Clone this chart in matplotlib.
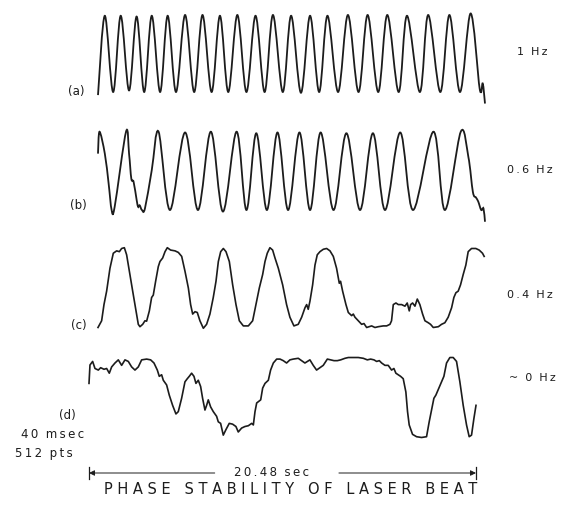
import numpy as np
import matplotlib
matplotlib.use("Agg")
import matplotlib.pyplot as plt
from matplotlib.path import Path
from matplotlib.patches import PathPatch
from matplotlib.transforms import blended_transform_factory

# 512 samples at 40 msec, amplitude in relative units (trough ~0, crest ~100)

# (a) 1 Hz
a_idx = [0, 9, 20, 30, 41, 51, 61, 71, 82, 92, 103, 115, 127, 138, 150, 161, 172, 184, 196,
         208, 220, 231, 244, 255, 268, 280, 292, 303, 317, 330, 344, 356, 370, 382, 397, 408,
         425, 436, 452, 464, 478, 492, 504, 508, 511]
a_val = [-4, 99, 0, 99, 2, 98, 0, 99, 0, 99, 0, 100, 0, 100, 0, 99, 0, 100, 0,
         99, 0, 100, 0, 99, -1, 99, 0, 99, 0, 100, 0, 100, 0, 100, 0, 99,
         0, 100, 0, 100, 0, 102, 4, 11, -15]

# (b) 0.6 Hz
b_idx = [0, 2, 9, 14, 18, 22, 37, 41, 44, 47, 51, 53, 55, 58, 62, 71, 80, 95, 115, 132,
         149, 165, 183, 196, 209, 223, 237, 251, 266, 280, 294, 311, 328, 346, 363, 379,
         399, 416, 443, 458, 479, 489, 495, 499, 502, 506, 509, 511]
b_val = [72, 100, 72, 34, 0, 4, 100, 72, 40, 36, 13, 4, 6, 0, 2, 51, 100, 0, 99, 0,
         100, -2, 100, 0, 98, 0, 99, 0, 99, 0, 99, 0, 98, 0, 98, 0,
         99, 0, 100, 0, 100, 68, 23, 16, 11, 0, 2, -15]

# (c) 0.4 Hz
c_idx = [0, 4.8, 7.9, 11.4, 15.8, 20.2, 24.6, 28.2, 31.2, 34.8, 37.8, 41.4, 45.8, 50.2, 53.2,
         55.4, 59.0, 62.0, 64.2, 67.8, 70.8, 73.0, 76.1, 79.6, 81.8, 85.4, 88.5, 91.5, 95.9,
         101.7, 106.1, 110.5, 114.9, 119.3, 122.3, 125.0, 128.1, 131.1, 134.6, 139.1, 143.4,
         147.8, 152.2, 155.8, 158.9, 162.0, 165.5, 169.0, 173.4, 177.8, 182.2, 186.6, 191.9,
         198.5, 204.2, 208.6, 213.0, 217.4, 220.5, 223.5, 227.0, 230.6, 233.7, 238.1, 243.8,
         249.0, 253.4, 258.7, 264.4, 268.9, 273.3, 275.5, 277.6, 279.9, 283.4, 286.5, 289.5,
         293.1, 297.5, 301.9, 306.3, 310.7, 315.0, 318.6, 320.3, 323.0, 327.4, 330.5, 334.9,
         337.1, 339.3, 343.7, 348.1, 351.2, 354.7, 361.3, 365.7, 370.1, 376.7, 381.1, 385.5,
         387.6, 389.9, 393.4, 396.5, 400.9, 405.3, 408.3, 411.0, 412.8, 415.4, 418.5, 421.6,
         425.0, 428.6, 431.7, 436.1, 439.1, 442.7, 449.4, 453.6, 458.0, 462.4, 466.9, 469.9,
         472.6, 475.6, 478.7, 482.2, 485.7, 488.8, 493.2, 498.9, 503.3, 507.7, 509.9]
c_val = [-1, 7.5, 28, 45, 74, 93, 96, 95, 99, 100, 91, 70, 45, 20, 3,
         0, 3, 7.5, 7, 20, 37, 40, 57.5, 76, 82.5, 87, 95, 100, 97,
         96, 94, 89, 70, 49, 28, 16, 19, 18, 7.5, -2, 3,
         16, 37, 57.5, 82.5, 95, 99, 95, 82.5, 53, 28, 7.5, 1,
         1, 7.5, 28, 49, 66, 82.5, 93, 100, 97, 87, 74, 53,
         28, 12, 1, 3, 12, 24, 28, 22, 32.5, 53, 78, 91,
         95, 98, 99, 96, 89, 74, 55, 57.5, 45, 28, 18, 14,
         16, 12, 7.5, 3, 4, -1, 1, -1, 0, 1, 1, 3,
         7.5, 28, 30, 28, 28, 26, 30, 20, 28, 30, 26, 35,
         28, 16, 7.5, 5, 3, -1, 0, 3, 5, 12, 24, 37,
         43, 45, 53, 66, 78, 95, 99, 99, 97, 93, 89]

# (d) ~0 Hz
d_idx = [0, 1.3, 4.8, 7.9, 12.3, 15.4, 19.8, 23.3, 26.8, 29.9, 34.3, 38.7, 43.1, 47.5, 51.9,
         56.3, 60.7, 65.1, 69.5, 76.1, 81.4, 85.8, 90.2, 92.8, 95.9, 98.1, 102.5, 106.0, 110.4,
         114.8, 117.9, 122.3, 126.7, 129.8, 132.4, 135.5, 138.6, 141.2, 144.3, 147.4, 150.0,
         153.1, 155.3, 157.5, 160.6, 164.1, 168.5, 170.7, 173.8, 177.3, 180.8, 185.2, 189.6,
         194.0, 197.1, 201.5, 205.9, 210.4, 214.8, 217.0, 219.2, 221.4, 226.7, 229.3, 232.4,
         236.8, 239.8, 243.4, 247.8, 252.2, 256.5, 260.9, 265.3, 269.7, 276.3, 280.7, 285.1,
         291.7, 296.1, 300.5, 304.9, 309.3, 314.7, 319.1, 323.5, 327.9, 332.3, 338.0, 342.4,
         349.0, 355.6, 362.2, 367.5, 371.9, 376.3, 379.8, 383.3, 386.4, 390.8, 395.1, 399.5,
         402.6, 405.2, 408.3, 411.4, 414.9, 418.4, 420.6, 422.8, 427.2, 432.5, 439.1, 445.7,
         449.2, 452.3, 455.4, 458.0, 461.1, 465.5, 468.6, 472.1, 476.5, 480.9, 485.3, 489.7,
         494.1, 498.5, 502.0, 505.1, 508.2, 511.0]
d_val = [68, 91.5, 96, 87, 85, 88, 86, 87, 81, 89, 94, 98, 91, 98, 96,
         89, 85, 89, 98, 99, 98, 94, 85, 77, 79, 72, 66, 53, 40,
         29, 32, 49, 70, 74, 77, 81, 77, 68, 72, 64, 49,
         34, 40, 47, 38, 32, 26, 19, 17, 2, 9, 17, 16,
         13, 6, 11, 13, 14, 17, 15, 32, 43, 47, 62, 68,
         72, 85, 94, 99, 99, 97, 94, 98, 99, 100, 97, 94,
         98, 91, 85, 88, 91, 99, 98, 97, 97, 98, 100, 101,
         101, 101, 100, 98, 99, 98, 96, 97, 94, 91, 91, 85,
         87, 81, 79, 77, 74, 57, 32, 15, 3, 0, -1, 0,
         19, 34, 49, 53, 60, 70, 77, 94, 101, 101, 96, 70,
         40, 15, 0, 2, 23, 40]

trace_labels = ["(a)", "(b)", "(c)", "(d)"]
freq_labels = ["1 Hz", "0.6 Hz", "0.4 Hz", "~ 0 Hz"]

W, H = 561, 515
INK = "#1c1c1c"

fig = plt.figure(figsize=(W / 100, H / 100), dpi=100)
fig.patch.set_facecolor("white")


def fx(x):
    return x / W


def fy(y):
    return 1 - y / H


def spaced(s, gap=" ", word_gap="   "):
    # lettering on the original is widely tracked
    return word_gap.join(gap.join(w) for w in s.split())


def tracked(s):
    return spaced(s, gap="\u2009", word_gap="  ")


def trace_axes(left, right, zero, full):
    # axes sized so that 0 and 100 land on the given pixel rows
    span = zero - full
    bottom = zero + 0.3 * span
    top = full - 0.3 * span
    ax = fig.add_axes([fx(left), fy(bottom), (right - left) / W, (bottom - top) / H])
    ax.set_xlim(0, 511)
    ax.set_ylim(-30, 130)
    ax.axis("off")
    return ax


def smooth_path(x, y):
    # Catmull-Rom style cubic segments through the read extrema
    pts = np.column_stack([x, y]).astype(float)
    ext = np.vstack([pts[0], pts, pts[-1]])
    verts = [pts[0]]
    codes = [Path.MOVETO]
    for i in range(len(pts) - 1):
        p0, p1, p2, p3 = ext[i], ext[i + 1], ext[i + 2], ext[i + 3]
        verts += [p1 + (p2 - p0) / 6, p2 - (p3 - p1) / 6, p2]
        codes += [Path.CURVE4] * 3
    return Path(verts, codes)


ax_a = trace_axes(98, 485, 92, 15)
ax_b = trace_axes(98, 485, 210, 131.7)
ax_c = trace_axes(98, 485, 326.7, 247.7)
ax_d = trace_axes(89, 476, 436.7, 358.3)

ax_a.add_patch(PathPatch(smooth_path(a_idx, a_val), fill=False, ec=INK, lw=1.3, clip_on=False))
ax_b.add_patch(PathPatch(smooth_path(b_idx, b_val), fill=False, ec=INK, lw=1.3, clip_on=False))
ax_c.plot(c_idx, c_val, color=INK, lw=1.2, clip_on=False)
ax_d.plot(d_idx, d_val, color=INK, lw=1.2, clip_on=False)

# labels on the left and right
lab_pos = [(76, 91), (78, 206), (79, 325), (67, 415)]
freq_pos = [(532, 52), (530, 170), (530, 295), (532, 378)]
for lab, (x, y) in zip(trace_labels, lab_pos):
    fig.text(fx(x), fy(y), lab, ha="center", va="center", fontsize=8.5, color=INK)
for lab, (x, y) in zip(freq_labels, freq_pos):
    fig.text(fx(x), fy(y), tracked(lab), ha="center", va="center", fontsize=8, color=INK)

fig.text(fx(53), fy(434), tracked("40 msec"), ha="center", va="center", fontsize=8.5, color=INK)
fig.text(fx(44), fy(454), tracked("512 pts"), ha="center", va="center", fontsize=8.5, color=INK)

# scale bar covering the 512 samples of trace (d)
tr = blended_transform_factory(ax_d.transData, fig.transFigure)
bar_y = fy(473)
ax_d.annotate("", xy=(0, bar_y), xytext=(166, bar_y), xycoords=tr, textcoords=tr,
              arrowprops=dict(arrowstyle="-|>", color=INK, lw=0.7, mutation_scale=8,
                              shrinkA=0, shrinkB=0))
ax_d.annotate("", xy=(511, bar_y), xytext=(330, bar_y), xycoords=tr, textcoords=tr,
              arrowprops=dict(arrowstyle="-|>", color=INK, lw=0.7, mutation_scale=8,
                              shrinkA=0, shrinkB=0))
for xe in (0, 511):
    ax_d.plot([xe, xe], [bar_y - 0.012, bar_y + 0.012], color=INK, lw=0.9,
              transform=tr, clip_on=False)
fig.text(fx(272), bar_y, tracked("20.48 sec"), ha="center", va="center", fontsize=8.5, color=INK)

fig.text(fx(291), fy(490), spaced("PHASE STABILITY OF LASER BEAT"), ha="center", va="center",
         fontsize=10.5, color=INK)

fig.savefig("out.png", dpi=100, facecolor="white")
